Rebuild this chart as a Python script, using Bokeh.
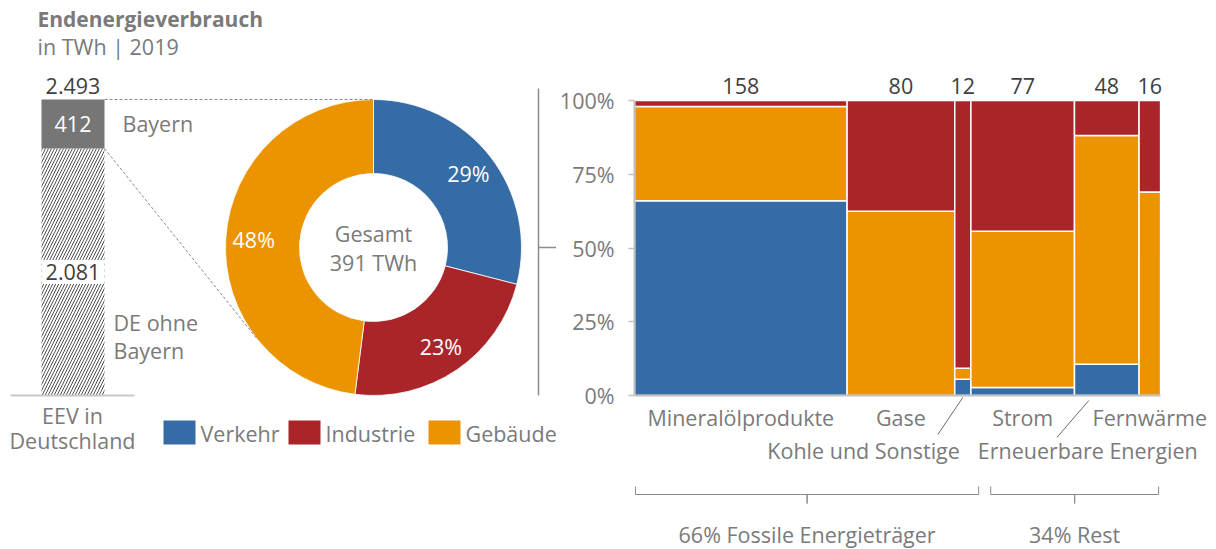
import math
from bokeh.plotting import figure
from bokeh.layouts import row
from bokeh.models import Range1d, Label, FixedTicker, NumeralTickFormatter
from bokeh.core.properties import value
from bokeh.embed import file_html
from bokeh.resources import INLINE

# ---------------- data ----------------
DE_TOTAL = 2493          # TWh, EEV in Deutschland
BY_TOTAL = 412           # TWh, Bayern
DE_REST = 2081           # TWh, DE ohne Bayern

SECTORS = ["Verkehr", "Industrie", "Gebäude"]
SECTOR_PCT = [29, 23, 48]
BY_EEV = 391             # TWh Gesamt Bayern

CARRIERS = ["Mineralölprodukte", "Gase", "Kohle und Sonstige", "Strom",
            "Erneuerbare Energien", "Fernwärme"]
CARRIER_TWH = [158, 80, 12, 77, 48, 16]
VERKEHR_SHARE = [66.0, 0.0, 5.5, 2.7, 10.6, 0.0]
GEBAEUDE_SHARE = [32.0, 62.5, 3.7, 53.0, 77.5, 69.0]
INDUSTRIE_SHARE = [2.0, 37.5, 90.8, 44.3, 11.9, 31.0]

GROUPS = ["66% Fossile Energieträger", "34% Rest"]
GROUP_PCT = [66, 34]

# ---------------- style ----------------
BLUE = "#366ca5"
RED = "#a9252a"
ORANGE = "#eb9400"
GRAY_TXT = "#7a7a7a"
DARK_TXT = "#404040"
FONT = value("Open Sans")
FS = "21.5px"

def fmt(v):
    return f"{v:,}".replace(",", ".")

# ---------------- left figure (bar + donut) ----------------
TOTAL_W, H = 1214, 548
LW = 556
BASE = 395.0            # page y of baseline
BAR_PX = 296.0
k = BAR_PX / DE_TOTAL   # px per TWh

def Yp(page_y):
    return (BASE - page_y) / k

left = figure(width=LW, height=H, x_range=Range1d(0, LW),
              y_range=Range1d(Yp(H), Yp(0)),
              output_backend="svg", toolbar_location=None,
              x_axis_location=None, y_axis_location=None,
              min_border=0, outline_line_color=None)
left.grid.visible = False

# title
left.text(x=[37], y=[Yp(18)], text=["Endenergieverbrauch"], text_font=FONT,
          text_font_size="21px", text_font_style="bold", text_color=GRAY_TXT,
          text_baseline="middle", text_align="left")
left.text(x=[37], y=[Yp(46)], text=["in TWh | 2019"], text_font=FONT,
          text_font_size=FS, text_color=GRAY_TXT,
          text_baseline="middle", text_align="left")

# stacked bar
BX0, BX1 = 41, 104
bx = (BX0 + BX1) / 2
left.quad(left=[BX0], right=[BX1], bottom=[0], top=[DE_REST], fill_color="white",
          line_color=None, hatch_pattern="/", hatch_color="#505050",
          hatch_scale=6, hatch_weight=1)
left.quad(left=[BX0], right=[BX1], bottom=[DE_REST], top=[DE_TOTAL],
          fill_color="#767676", line_color=None)
left.segment(x0=[10], x1=[134], y0=[0], y1=[0], line_color="#c8c8c8", line_width=2)

left.text(x=[bx], y=[DE_TOTAL], y_offset=[-14], text=[fmt(DE_TOTAL)], text_font=FONT,
          text_font_size=FS, text_color=DARK_TXT, text_align="center",
          text_baseline="middle")
left.text(x=[bx], y=[(DE_REST + DE_TOTAL) / 2], text=[fmt(BY_TOTAL)], text_font=FONT,
          text_font_size=FS, text_color="white", text_align="center",
          text_baseline="middle")
left.text(x=[122], y=[(DE_REST + DE_TOTAL) / 2], text=["Bayern"], text_font=FONT,
          text_font_size=FS, text_color=GRAY_TXT, text_align="left",
          text_baseline="middle")
left.add_layout(Label(x=bx, y=DE_REST / 2, text=fmt(DE_REST), text_font="Open Sans",
                      text_font_size=FS, text_color=DARK_TXT, text_align="center",
                      text_baseline="middle", background_fill_color="white",
                      padding=4))
left.text(x=[113, 113], y=[Yp(322), Yp(350)], text=["DE ohne", "Bayern"], text_font=FONT,
          text_font_size=FS, text_color=GRAY_TXT, text_align="left",
          text_baseline="middle")
left.text(x=[72, 72], y=[Yp(415), Yp(440)], text=["EEV in", "Deutschland"], text_font=FONT,
          text_font_size=FS, text_color=GRAY_TXT, text_align="center",
          text_baseline="middle")

# donut
CX = 373
CY = DE_TOTAL / 2
R_OUT, R_IN = BAR_PX / 2, 74
colors = [BLUE, RED, ORANGE]
cum = 0.0
starts, ends, lx, ly = [], [], [], []
for pct in SECTOR_PCT:
    a0 = math.pi / 2 - cum / 100 * 2 * math.pi
    a1 = math.pi / 2 - (cum + pct) / 100 * 2 * math.pi
    starts.append(a0)
    ends.append(a1)
    am = (a0 + a1) / 2
    lx.append(120 * math.cos(am))
    ly.append(-120 * math.sin(am))
    cum += pct
left.annular_wedge(x=CX, y=CY, inner_radius=R_IN, outer_radius=R_OUT,
                   inner_radius_units="screen", outer_radius_units="screen",
                   start_angle=starts, end_angle=ends, direction="clock",
                   fill_color=colors, line_color="white", line_width=0.8)
left.text(x=[CX] * 3, y=[CY] * 3, x_offset=lx, y_offset=ly,
          text=[f"{p}%" for p in SECTOR_PCT], text_font=FONT, text_font_size=FS,
          text_color="white", text_align="center", text_baseline="middle")
left.text(x=[CX, CX], y=[CY, CY], y_offset=[-14, 15],
          text=["Gesamt", f"{BY_EEV} TWh"], text_font=FONT, text_font_size=FS,
          text_color=GRAY_TXT, text_align="center", text_baseline="middle")

# tangent connectors from bar corners to donut
cpx, cpy = CX, BASE - CY * k
def tangent(px, py, lower):
    vx, vy = px - cpx, cpy - py
    d = math.hypot(vx, vy)
    th = math.atan2(vy, vx)
    a = math.acos(R_OUT / d)
    t = th + a if lower else th - a
    return cpx + R_OUT * math.cos(t), (R_OUT * math.sin(t)) / k + CY

t1 = tangent(BX1, BASE - DE_TOTAL * k, False)
t2 = tangent(BX1, BASE - DE_REST * k, True)
left.multi_line(xs=[[BX1, t1[0]], [BX1, t2[0]]], ys=[[DE_TOTAL, t1[1]], [DE_REST, t2[1]]],
                line_color="#8a8a8a", line_width=1, line_dash="3 2")

# bracket towards the mosaic
left.segment(x0=[538, 538], x1=[538, 556], y0=[Yp(88), CY], y1=[0, CY],
             line_color="#8c8c8c", line_width=1.5)

# legend
LEG_X = [163, 288, 428]
for xx, c, name in zip(LEG_X, colors, SECTORS):
    left.quad(left=[xx], right=[xx + 32], top=[Yp(420)], bottom=[Yp(444)],
              fill_color=c, line_color=None)
    left.text(x=[xx + 37], y=[Yp(433)], text=[name], text_font=FONT, text_font_size=FS,
              text_color=GRAY_TXT, text_align="left", text_baseline="middle")

# ---------------- mosaic figure ----------------
MW = TOTAL_W - LW
ML = 633 - LW
MOS_W_PX = 527.0
MOS_H_PX = 295.0
total = sum(CARRIER_TWH)
sx = MOS_W_PX / total

def Ym(page_y):
    return (BASE - page_y) / MOS_H_PX

mos = figure(width=MW, height=H, x_range=Range1d(0, (MW - ML) / sx),
             y_range=Range1d(Ym(H), Ym(0)),
             output_backend="svg", toolbar_location=None,
             x_axis_location=None, min_border_left=ML, min_border_right=0,
             min_border_top=0, min_border_bottom=0, outline_line_color=None)
mos.grid.visible = False
ya = mos.yaxis[0]
ya.bounds = (0, 1)
ya.ticker = FixedTicker(ticks=[0, 0.25, 0.5, 0.75, 1.0])
ya.formatter = NumeralTickFormatter(format="0%")
ya.axis_line_color = "#c0c0c0"
ya.axis_line_width = 2
ya.major_tick_line_color = "#c0c0c0"
ya.major_tick_line_width = 1.5
ya.major_tick_out = 6
ya.major_tick_in = 0
ya.minor_tick_line_color = None
ya.major_label_text_font = "Open Sans"
ya.major_label_text_font_size = FS
ya.major_label_text_color = GRAY_TXT
ya.major_label_standoff = 14

lefts, rights, bots, tops, fills = [], [], [], [], []
x0 = 0.0
centers = []
for i, w in enumerate(CARRIER_TWH):
    b = 0.0
    for share, c in ((VERKEHR_SHARE[i], BLUE), (GEBAEUDE_SHARE[i], ORANGE),
                     (INDUSTRIE_SHARE[i], RED)):
        if share > 0:
            lefts.append(x0); rights.append(x0 + w)
            bots.append(b / 100); tops.append((b + share) / 100); fills.append(c)
        b += share
    centers.append(x0 + w / 2)
    x0 += w
mos.quad(left=lefts, right=rights, bottom=bots, top=tops, fill_color=fills,
         line_color="white", line_width=1.5)
mos.segment(x0=[0], x1=[total], y0=[0], y1=[0], line_color="#c0c0c0", line_width=2)

mos.text(x=centers, y=[1.0] * len(centers), y_offset=[-15] * len(centers),
         text=[str(v) for v in CARRIER_TWH], text_font=FONT, text_font_size=FS,
         text_color=DARK_TXT, text_align="center", text_baseline="middle")

# category labels
row1 = [0, 1, 3, 5]
mos.text(x=[centers[i] for i in row1], y=[0] * 4, y_offset=[22] * 4,
         text=[CARRIERS[i] for i in row1], text_font=FONT, text_font_size=FS,
         text_color=GRAY_TXT, text_align="center", text_baseline="middle")
mos.text(x=[centers[2]], y=[0], x_offset=[-3], y_offset=[55], text=[CARRIERS[2]],
         text_font=FONT, text_font_size=FS, text_color=GRAY_TXT, text_align="right",
         text_baseline="middle")
mos.text(x=[centers[4]], y=[0], x_offset=[-19], y_offset=[55], text=[CARRIERS[4]],
         text_font=FONT, text_font_size=FS, text_color=GRAY_TXT, text_align="center",
         text_baseline="middle")
# leaders
mos.segment(x0=[centers[2], centers[4] - 18 / sx], y0=[Ym(397), Ym(400)],
            x1=[centers[2] - 25 / sx, centers[4] - 50 / sx], y1=[Ym(434), Ym(437)],
            line_color="#6a6a6a", line_width=1)

# braces
bnd = GROUP_PCT[0] / 100 * total
spans = [(1 / sx, bnd - 3 / sx), (bnd + 9 / sx, total - 2 / sx)]
yt, yh, yd = Ym(486), Ym(494), Ym(503)
bxs, bys, bcx = [], [], []
for a, b in spans:
    c = (a + b) / 2
    bxs.append([a, a, c, c, c, b, b])
    bys.append([yt, yh, yh, yd, yh, yh, yt])
    bcx.append(c)
mos.multi_line(xs=bxs, ys=bys, line_color="#8a8a8a", line_width=1)
mos.text(x=bcx, y=[Ym(534)] * 2, text=GROUPS, text_font=FONT, text_font_size=FS,
         text_color=GRAY_TXT, text_align="center", text_baseline="middle")

layout = row(left, mos)
open("out.html", "w").write(file_html(layout, INLINE))
